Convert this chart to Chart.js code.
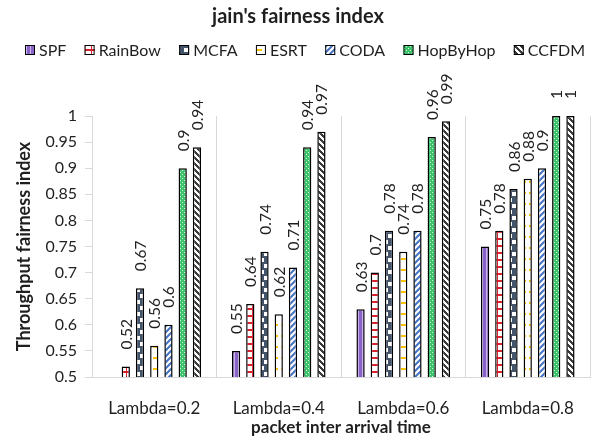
<!DOCTYPE html>
<html>
<head>
<meta charset="utf-8">
<script src="https://cdn.jsdelivr.net/npm/chart.js@4/dist/chart.umd.min.js"></script>
<style>
  html, body { margin: 0; padding: 0; background: #fff; }
  canvas { display: block; }
</style>
</head>
<body>
<canvas id="c" width="596" height="441"></canvas>
<script>
// Packet inter-arrival time settings (x categories)
const categories = ['Lambda=0.2', 'Lambda=0.4', 'Lambda=0.6', 'Lambda=0.8'];

// Jain's fairness index per protocol
const spf      = [0.50, 0.55, 0.63, 0.75];
const rainbow  = [0.52, 0.64, 0.70, 0.78];
const mcfa     = [0.67, 0.74, 0.78, 0.86];
const esrt     = [0.56, 0.62, 0.74, 0.88];
const coda     = [0.60, 0.71, 0.78, 0.90];
const hopByHop = [0.90, 0.94, 0.96, 1.00];
const ccfdm    = [0.94, 0.97, 0.99, 1.00];

const seriesNames = ['SPF', 'RainBow', 'MCFA', 'ESRT', 'CODA', 'HopByHop', 'CCFDM'];
const seriesValues = [spf, rainbow, mcfa, esrt, coda, hopByHop, ccfdm];

// Value axis tick labels
const yTickLabels = ['0.5', '0.55', '0.6', '0.65', '0.7', '0.75', '0.8', '0.85', '0.9', '0.95', '1'];

const FONT = 'Lato, "Liberation Sans", sans-serif';
const TEXT = '#1f1f1f';

// ---- fill patterns for the bars ----
function makePattern(w, h, paint) {
  const cv = document.createElement('canvas');
  cv.width = w; cv.height = h;
  const g = cv.getContext('2d');
  paint(g, w, h);
  return g.createPattern(cv, 'repeat');
}

const patterns = [
  // SPF: purple with light vertical stripes
  makePattern(4, 4, (g, w, h) => {
    g.fillStyle = '#8a63c6'; g.fillRect(0, 0, w, h);
    g.fillStyle = '#c8b4ea'; g.fillRect(2, 0, 1, h);
  }),
  // RainBow: red ladder on white
  makePattern(7, 7, (g, w, h) => {
    g.fillStyle = '#ffffff'; g.fillRect(0, 0, w, h);
    g.fillStyle = '#d9212b';
    g.fillRect(0, 0, w, 2);
    g.fillRect(0, 0, 1, h);
  }),
  // MCFA: dark slate with white blocks
  makePattern(8, 12, (g, w, h) => {
    g.fillStyle = '#44546a'; g.fillRect(0, 0, w, h);
    g.fillStyle = '#ffffff';
    g.fillRect(0, 0, 4, 4);
    g.fillRect(4, 6, 4, 4);
  }),
  // ESRT: white with short amber dashes
  makePattern(8, 11, (g, w, h) => {
    g.fillStyle = '#ffffff'; g.fillRect(0, 0, w, h);
    g.fillStyle = '#ffc000'; g.fillRect(1, 5, 5, 2);
  }),
  // CODA: blue diagonal stripes
  makePattern(6, 6, (g, w, h) => {
    g.fillStyle = '#ffffff'; g.fillRect(0, 0, w, h);
    g.strokeStyle = '#4472c4'; g.lineWidth = 2;
    g.beginPath();
    g.moveTo(-1, 7); g.lineTo(7, -1);
    g.moveTo(-4, 4); g.lineTo(4, -4);
    g.moveTo(2, 10); g.lineTo(10, 2);
    g.stroke();
  }),
  // HopByHop: green lattice
  makePattern(4, 4, (g, w, h) => {
    g.fillStyle = '#3cc46a'; g.fillRect(0, 0, w, h);
    g.fillStyle = '#d8f5e0';
    g.fillRect(0, 0, 1, 1);
    g.fillRect(2, 2, 1, 1);
  }),
  // CCFDM: grey weave on white
  makePattern(6, 6, (g, w, h) => {
    g.fillStyle = '#ffffff'; g.fillRect(0, 0, w, h);
    g.fillStyle = '#3a3a3a';
    g.fillRect(0, 0, 3, 1); g.fillRect(1, 1, 3, 1); g.fillRect(2, 2, 3, 1);
    g.fillRect(3, 3, 3, 1); g.fillRect(4, 4, 2, 1); g.fillRect(0, 4, 1, 1);
    g.fillRect(5, 5, 1, 1); g.fillRect(0, 5, 2, 1);
  })
];

// ---- title, legend and rotated value labels ----
const decorations = {
  id: 'decorations',
  afterDatasetsDraw(chart) {
    const ctx = chart.ctx;
    ctx.save();
    ctx.fillStyle = TEXT;
    chart.data.datasets.forEach((ds, i) => {
      const meta = chart.getDatasetMeta(i);
      const yMin = chart.scales.y.min;
      meta.data.forEach((bar, j) => {
        const v = ds.data[j];
        if (v <= yMin) return;
        ctx.save();
        ctx.translate(bar.x, bar.y - 17);
        ctx.rotate(-Math.PI / 2);
        ctx.font = '15.5px ' + FONT;
        ctx.textAlign = 'left';
        ctx.textBaseline = 'middle';
        ctx.fillText(String(v), 0, 1);
        ctx.restore();
      });
    });
    ctx.restore();
  },
  afterDraw(chart) {
    const ctx = chart.ctx;
    ctx.save();
    // title
    ctx.fillStyle = TEXT;
    ctx.font = 'bold 20px ' + FONT;
    ctx.textAlign = 'center';
    ctx.textBaseline = 'middle';
    ctx.fillText("jain's fairness index", 298, 17);

    // legend
    ctx.font = '16px ' + FONT;
    ctx.textAlign = 'left';
    const box = 10, boxGap = 4;
    const widths = seriesNames.map(n => ctx.measureText(n).width);
    const startX = 25, endX = 585;
    const used = widths.reduce((a, w) => a + box + boxGap + w, 0);
    const spacing = (endX - startX - used) / (seriesNames.length - 1);
    let x = startX;
    const cy = 50;
    seriesNames.forEach((name, i) => {
      ctx.fillStyle = patterns[i];
      ctx.fillRect(x, cy - box / 2, box, box);
      ctx.strokeStyle = '#000';
      ctx.lineWidth = 1;
      ctx.strokeRect(x + 0.5, cy - box / 2 + 0.5, box - 1, box - 1);
      ctx.fillStyle = TEXT;
      ctx.fillText(name, x + box + boxGap, cy + 1);
      x += box + boxGap + widths[i] + spacing;
    });
    ctx.restore();
  }
};

const datasets = seriesNames.map((name, i) => ({
  label: name,
  data: seriesValues[i],
  backgroundColor: patterns[i],
  borderColor: '#000000',
  borderWidth: 1.5,
  borderSkipped: false,
  categoryPercentage: 0.8,
  barPercentage: 0.58
}));

new Chart(document.getElementById('c'), {
  type: 'bar',
  data: { labels: categories, datasets },
  options: {
    responsive: false,
    animation: false,
    devicePixelRatio: 1,
    layout: { padding: { top: 116, left: 0, right: 6, bottom: 0 } },
    plugins: {
      legend: { display: false },
      title: { display: false },
      tooltip: { enabled: false }
    },
    scales: {
      x: {
        grid: { offset: true, drawOnChartArea: true, drawTicks: false, color: '#d9d9d9', lineWidth: 1 },
        border: { display: true, color: '#d9d9d9' },
        ticks: { color: TEXT, font: { family: FONT, size: 17 }, padding: 21, maxRotation: 0 },
        title: { display: true, text: 'packet inter arrival time', color: TEXT,
                 font: { family: FONT, size: 17, weight: 'bold' }, padding: { top: 0, bottom: 3 } },
        afterFit(scale) { scale.height = 64; }
      },
      y: {
        min: 0.5,
        max: 1,
        ticks: {
          stepSize: 0.05,
          color: TEXT,
          font: { family: FONT, size: 16 },
          padding: 8,
          callback: (value, index) => yTickLabels[index]
        },
        grid: { drawOnChartArea: false, drawTicks: true, tickLength: 7, color: '#d9d9d9' },
        border: { display: true, color: '#d9d9d9' },
        title: { display: true, text: 'Throughput fairness index', color: TEXT,
                 font: { family: FONT, size: 18, weight: 'bold' }, padding: { top: 13, bottom: 0 } },
        afterFit(scale) { scale.width = 92; }
      }
    }
  },
  plugins: [decorations]
});
</script>
</body>
</html>
